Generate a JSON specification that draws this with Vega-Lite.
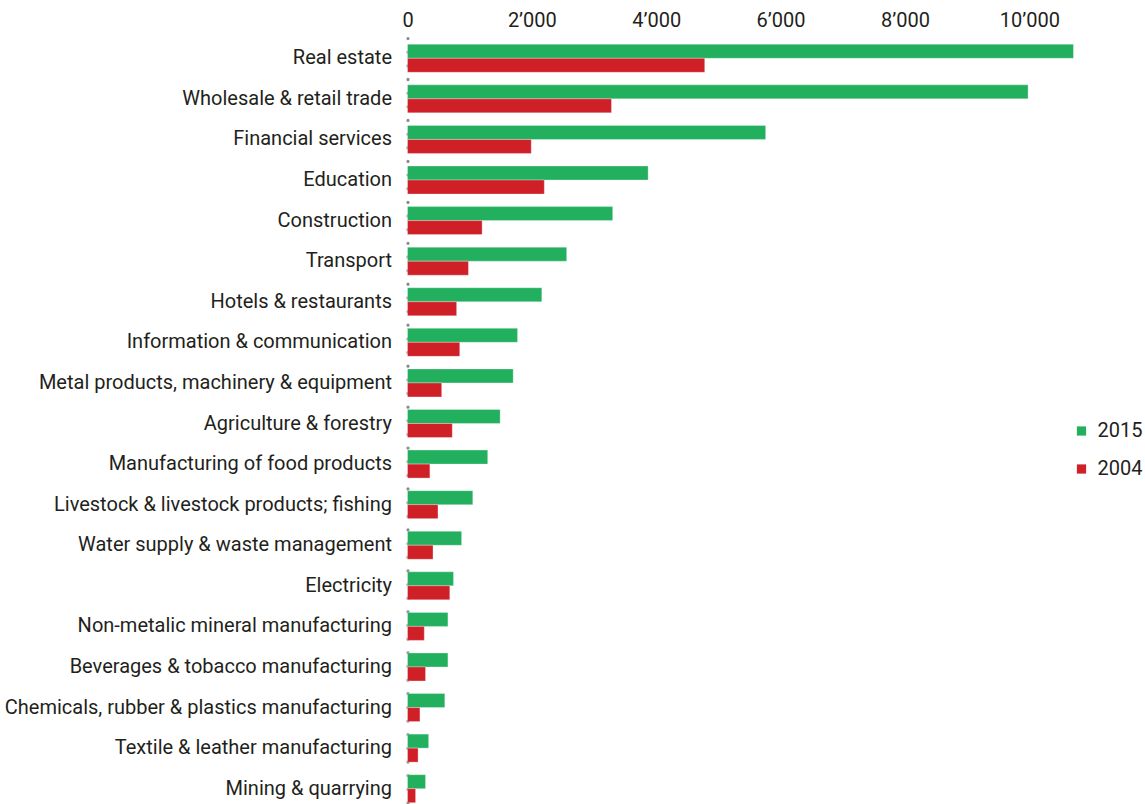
{
  "$schema": "https://vega.github.io/schema/vega-lite/v6.json",
  "autosize": {"type": "none"},
  "width": 684,
  "height": 766,
  "padding": {"left": 407.5, "top": 38, "right": 53.5, "bottom": 0},
  "background": "white",
  "config": {
    "font": "Roboto",
    "view": {"stroke": null},
    "axis": {"labelFont": "Roboto", "labelColor": "#231f20", "labelFontSize": 20, "grid": false, "ticks": false, "title": null},
    "legend": {"labelFont": "Roboto", "labelColor": "#231f20", "labelFontSize": 20}
  },
  "data": {"values": [
    {"sector": "Real estate", "year": "2015", "value": 10710},
    {"sector": "Real estate", "year": "2004", "value": 4780},
    {"sector": "Wholesale & retail trade", "year": "2015", "value": 9980},
    {"sector": "Wholesale & retail trade", "year": "2004", "value": 3280},
    {"sector": "Financial services", "year": "2015", "value": 5760},
    {"sector": "Financial services", "year": "2004", "value": 1990},
    {"sector": "Education", "year": "2015", "value": 3870},
    {"sector": "Education", "year": "2004", "value": 2200},
    {"sector": "Construction", "year": "2015", "value": 3300},
    {"sector": "Construction", "year": "2004", "value": 1200},
    {"sector": "Transport", "year": "2015", "value": 2560},
    {"sector": "Transport", "year": "2004", "value": 980},
    {"sector": "Hotels & restaurants", "year": "2015", "value": 2160},
    {"sector": "Hotels & restaurants", "year": "2004", "value": 790},
    {"sector": "Information & communication", "year": "2015", "value": 1770},
    {"sector": "Information & communication", "year": "2004", "value": 840},
    {"sector": "Metal products, machinery & equipment", "year": "2015", "value": 1700},
    {"sector": "Metal products, machinery & equipment", "year": "2004", "value": 550},
    {"sector": "Agriculture & forestry", "year": "2015", "value": 1490},
    {"sector": "Agriculture & forestry", "year": "2004", "value": 720},
    {"sector": "Manufacturing of food products", "year": "2015", "value": 1290},
    {"sector": "Manufacturing of food products", "year": "2004", "value": 360},
    {"sector": "Livestock & livestock products; fishing", "year": "2015", "value": 1050},
    {"sector": "Livestock & livestock products; fishing", "year": "2004", "value": 490},
    {"sector": "Water supply & waste management", "year": "2015", "value": 870},
    {"sector": "Water supply & waste management", "year": "2004", "value": 410},
    {"sector": "Electricity", "year": "2015", "value": 740},
    {"sector": "Electricity", "year": "2004", "value": 680},
    {"sector": "Non-metalic mineral manufacturing", "year": "2015", "value": 650},
    {"sector": "Non-metalic mineral manufacturing", "year": "2004", "value": 270},
    {"sector": "Beverages & tobacco manufacturing", "year": "2015", "value": 650},
    {"sector": "Beverages & tobacco manufacturing", "year": "2004", "value": 290},
    {"sector": "Chemicals, rubber & plastics manufacturing", "year": "2015", "value": 600},
    {"sector": "Chemicals, rubber & plastics manufacturing", "year": "2004", "value": 200},
    {"sector": "Textile & leather manufacturing", "year": "2015", "value": 340},
    {"sector": "Textile & leather manufacturing", "year": "2004", "value": 170},
    {"sector": "Mining & quarrying", "year": "2015", "value": 290},
    {"sector": "Mining & quarrying", "year": "2004", "value": 130}
  ]},
  "mark": {"type": "bar", "stroke": "white", "strokeWidth": 0.5, "strokeOpacity": 0.6},
  "encoding": {
    "y": {
      "field": "sector", "type": "nominal", "sort": null,
      "scale": {"range": [0, 771], "paddingInner": 0.31, "paddingOuter": 0.155},
      "axis": {"domain": true, "domainColor": "#8a8a8a", "domainWidth": 3.2, "domainCap": "round", "domainDash": [0.1, 13.55], "labelPadding": 16, "labelLimit": 420}
    },
    "x": {
      "field": "value", "type": "quantitative",
      "scale": {"domain": [0, 11000], "nice": false},
      "axis": {"orient": "top", "domain": false, "values": [0, 2000, 4000, 6000, 8000, 10000], "labelPadding": 8, "labelExpr": "replace(format(datum.value, ','), ',', '\u2019')", "labelFlush": false, "labelOverlap": false}
    },
    "yOffset": {"field": "year", "type": "nominal", "sort": ["2015", "2004"], "scale": {"paddingInner": 0}},
    "color": {
      "field": "year", "type": "nominal",
      "scale": {"domain": ["2015", "2004"], "range": ["#23b05e", "#d02027"]},
      "legend": {"title": null, "orient": "none", "legendX": 664, "legendY": 383, "symbolType": "square", "symbolSize": 85, "symbolStrokeWidth": 0, "labelOffset": 6, "rowPadding": 18}
    }
  }
}
